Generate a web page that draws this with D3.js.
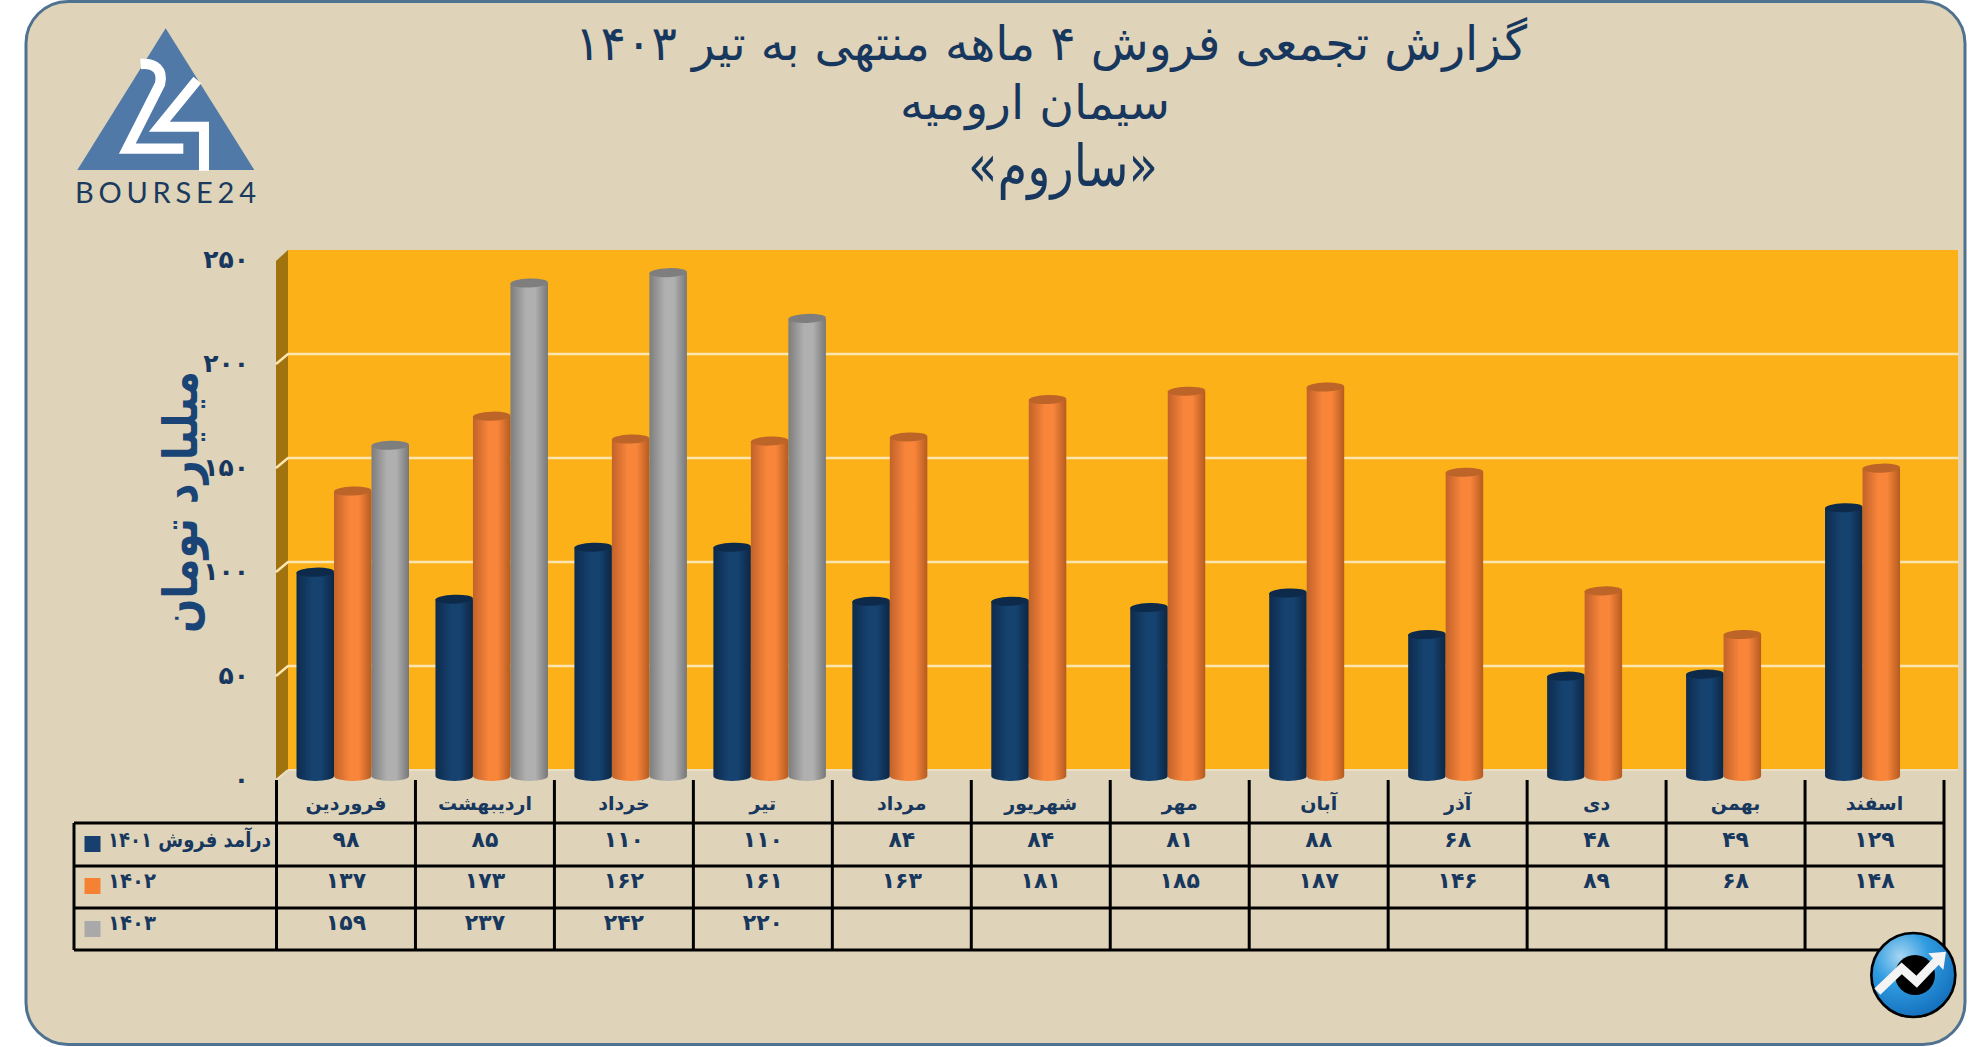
<!DOCTYPE html>
<html>
<head>
<meta charset="utf-8">
<script src="https://cdn.jsdelivr.net/npm/d3@7"></script>
<style>
body { margin:0; background:#fff; }
svg { display:block; }
text { font-family:"DejaVu Sans", sans-serif; fill:#17375e; }
</style>
</head>
<body>
<svg id="chart" width="1986" height="1047"></svg>
<script>
const months = ['فروردین','اردیبهشت','خرداد','تیر','مرداد','شهریور','مهر','آبان','آذر','دی','بهمن','اسفند'];
const series = ['1401','1402','1403'];
const sales1401 = [98,85,110,110,84,84,81,88,68,48,49,129];
const sales1402 = [137,173,162,161,163,181,185,187,146,89,68,148];
const sales1403 = [159,237,242,220];
const yTicks = [0,50,100,150,200,250];
const allSales = [sales1401,sales1402,sales1403];

const titleLines = ['گزارش تجمعی فروش ۴ ماهه منتهی به تیر ۱۴۰۳','سیمان ارومیه','«ساروم»'];
const yTitle = 'میلیارد تومان';
const legendPrefix = 'درآمد فروش ';

// colours: left edge, middle, right edge, cap
const barColors = [
  ['#0e2b4d','#15426f','#0c2644','#0d2a4b'],
  ['#c2622a','#f8853a','#b55b20','#bd6428'],
  ['#7d7d7d','#b0b0b0','#777777','#7e7e7e']
];
const swatchColors = ['#17406f','#f58233','#a9a9a9'];

function fa(n){ return String(n).replace(/\d/g,d=>'۰۱۲۳۴۵۶۷۸۹'[d]); }

const svg = d3.select('#chart');
const defs = svg.append('defs');

barColors.forEach((c,i)=>{
  const g = defs.append('linearGradient').attr('id','bar'+i);
  g.append('stop').attr('offset','0%').attr('stop-color',c[0]);
  g.append('stop').attr('offset','42%').attr('stop-color',c[1]);
  g.append('stop').attr('offset','66%').attr('stop-color',c[1]);
  g.append('stop').attr('offset','100%').attr('stop-color',c[2]);
});
const coinGrad = defs.append('radialGradient').attr('id','coin').attr('cx','35%').attr('cy','28%').attr('r','75%');
coinGrad.append('stop').attr('offset','0%').attr('stop-color','#a7d6f2');
coinGrad.append('stop').attr('offset','45%').attr('stop-color','#2f9be0');
coinGrad.append('stop').attr('offset','100%').attr('stop-color','#1470bd');

// card
svg.append('rect').attr('x',26).attr('y',1.5).attr('width',1939).attr('height',1043).attr('rx',42)
  .attr('fill','#dfd4b9').attr('stroke','#4f7291').attr('stroke-width',3);

// title
const titleSpec = [
  {x:1051, y:60, size:48, len:952},
  {x:1035, y:119, size:47, len:270},
  {x:1063, y:186, size:58, len:190}
];
svg.append('g').selectAll('text').data(titleLines).join('text')
  .attr('direction','rtl').attr('text-anchor','middle')
  .attr('x',(d,i)=>titleSpec[i].x)
  .attr('y',(d,i)=>titleSpec[i].y)
  .attr('font-size',(d,i)=>titleSpec[i].size)
  .attr('textLength',(d,i)=>titleSpec[i].len)
  .attr('lengthAdjust','spacingAndGlyphs')
  .text(d=>d);

// logo
const logo = svg.append('g').attr('transform','translate(70,20) scale(0.3333)');
logo.append('path').attr('d','M287,25 L553,450 L22,450 Z').attr('fill','#5079a8');
logo.append('path').attr('d','M212,132 C255,128 280,150 270,192 L172,386 L340,386')
  .attr('fill','none').attr('stroke','#fff').attr('stroke-width',31);
logo.append('path').attr('d','M382,180 L268,320 L402,320 L402,452')
  .attr('fill','none').attr('stroke','#fff').attr('stroke-width',30);
svg.append('text').attr('x',75).attr('y',203).attr('font-size',29)
  .attr('textLength',181).attr('lengthAdjust','spacing')
  .style('font-family','Lato').style('fill','#1a3a5e').text('BOURSE24');

// scales, y runs on the back wall, bars sit a few px in front of it
const x0 = d3.scaleBand().domain(months).range([276.5,1944]);
const x1 = d3.scaleBand().domain(series).range([20,132.5]);
const y = d3.scaleLinear().domain([0,250]).range([770,250]);
const depth = 6;
const wallX = 288, wallR = 1958, sideX = 276;

// wall
svg.append('rect').attr('x',wallX).attr('y',y(250)).attr('width',wallR-wallX).attr('height',y(0)-y(250)).attr('fill','#fbb117');
svg.append('path').attr('d',`M${sideX},${y(250)+11}L${wallX},${y(250)}L${wallX},${y(0)}L${sideX},${y(0)+10}Z`).attr('fill','#a1730f');
svg.append('line').attr('x1',sideX).attr('x2',wallX).attr('y1',y(0)+10).attr('y2',y(0)).attr('stroke','#ece0c4').attr('stroke-width',2);
svg.append('line').attr('x1',wallX).attr('x2',wallR).attr('y1',y(0)).attr('y2',y(0)).attr('stroke','#ece0c4').attr('stroke-width',2);

const grid = svg.append('g').selectAll('path').data(yTicks.filter(t=>t>0&&t<250)).join('path')
  .attr('d',t=>`M${sideX},${y(t)+10}L${wallX},${y(t)}L${wallR},${y(t)}`)
  .attr('fill','none').attr('stroke','#fce5b0').attr('stroke-width',2.5);

// y axis
svg.append('text').attr('transform','translate(197,502) rotate(-90)')
  .attr('direction','rtl').attr('text-anchor','middle')
  .attr('font-size',48).attr('font-weight','bold')
  .attr('textLength',262).attr('lengthAdjust','spacingAndGlyphs')
  .style('fill','#1a4475').text(yTitle);

const axis = svg.append('g').attr('transform',`translate(249,9)`)
  .call(d3.axisLeft(y).tickValues(yTicks).tickSize(0).tickPadding(0).tickFormat(fa));
axis.select('.domain').remove();
axis.selectAll('text').attr('font-size',25).attr('font-weight','bold')
  .style('font-family','"DejaVu Sans"').style('fill','#17375e');

// bars
const bw = x1.bandwidth();
const ry = 5;
allSales.forEach((vals,s)=>{
  const g = svg.append('g');
  const bars = g.selectAll('g').data(vals).join('g')
    .attr('transform',(d,i)=>`translate(${x0(months[i])+x1(series[s])},0)`);
  bars.append('path')
    .attr('d',d=>`M0,${y(d)+depth}L0,${y(0)+depth}A${bw/2},${ry} 0 0 0 ${bw},${y(0)+depth}L${bw},${y(d)+depth}Z`)
    .attr('fill',`url(#bar${s})`);
  bars.append('ellipse')
    .attr('cx',bw/2).attr('cy',d=>y(d)+depth).attr('rx',bw/2).attr('ry',ry-0.5)
    .attr('transform',d=>`rotate(-2 ${bw/2} ${y(d)+depth})`)
    .attr('fill',barColors[s][3]);
});

// data table
const rowLines = [823,866,908,950];
const tableTop = 780, tableLeft = 74, tableRight = 1944;
const t = svg.append('g').attr('stroke','#000').attr('stroke-width',3);
t.selectAll('.row').data(rowLines).join('line').attr('class','row')
  .attr('x1',tableLeft).attr('x2',tableRight).attr('y1',d=>d).attr('y2',d=>d);
t.selectAll('.col').data(months.concat(['end'])).join('line').attr('class','col')
  .attr('x1',(d,i)=>x0.range()[0]+i*x0.step()).attr('x2',(d,i)=>x0.range()[0]+i*x0.step())
  .attr('y1',tableTop).attr('y2',rowLines[3]);
t.append('line').attr('x1',tableLeft).attr('x2',tableLeft).attr('y1',rowLines[0]).attr('y2',rowLines[3]);

svg.append('g').selectAll('text').data(months).join('text')
  .attr('x',d=>x0(d)+x0.bandwidth()/2).attr('y',810)
  .attr('text-anchor','middle').attr('font-size',19).attr('font-weight','bold')
  .text(d=>d);

const rowText = [847,888,930];
allSales.forEach((vals,s)=>{
  svg.append('g').selectAll('text').data(vals).join('text')
    .attr('x',(d,i)=>x0(months[i])+x0.bandwidth()/2).attr('y',rowText[s])
    .attr('text-anchor','middle').attr('font-size',22).attr('font-weight','bold')
    .text(fa);
});

// legend cells
const legendY = [844,886,929];
svg.append('g').selectAll('rect').data(series).join('rect')
  .attr('x',84.5).attr('y',(d,i)=>legendY[i]-8).attr('width',16).attr('height',16)
  .attr('fill',(d,i)=>swatchColors[i]);
svg.append('g').selectAll('text').data(series).join('text')
  .attr('direction','rtl').attr('text-anchor','end')
  .attr('x',108).attr('y',(d,i)=>rowText[i])
  .attr('font-size',21).attr('font-weight','bold')
  .attr('textLength',(d,i)=>i==0?163:48).attr('lengthAdjust','spacingAndGlyphs')
  .text((d,i)=>(i==0?legendPrefix:'')+fa(d));

// corner badge
const coin = svg.append('g').attr('transform','translate(1860,920) scale(0.3333)');
coin.append('circle').attr('cx',160).attr('cy',165).attr('r',126).attr('fill','url(#coin)').attr('stroke','#000').attr('stroke-width',8);
coin.append('circle').attr('cx',165).attr('cy',165).attr('r',60).attr('fill','#000');
coin.append('path').attr('d','M52,215 L125,145 L170,185 L232,120').attr('fill','none').attr('stroke','#f4f4f4').attr('stroke-width',26);
coin.append('path').attr('d','M205,100 L258,95 L250,150 Z').attr('fill','#f4f4f4');
</script>
</body>
</html>
